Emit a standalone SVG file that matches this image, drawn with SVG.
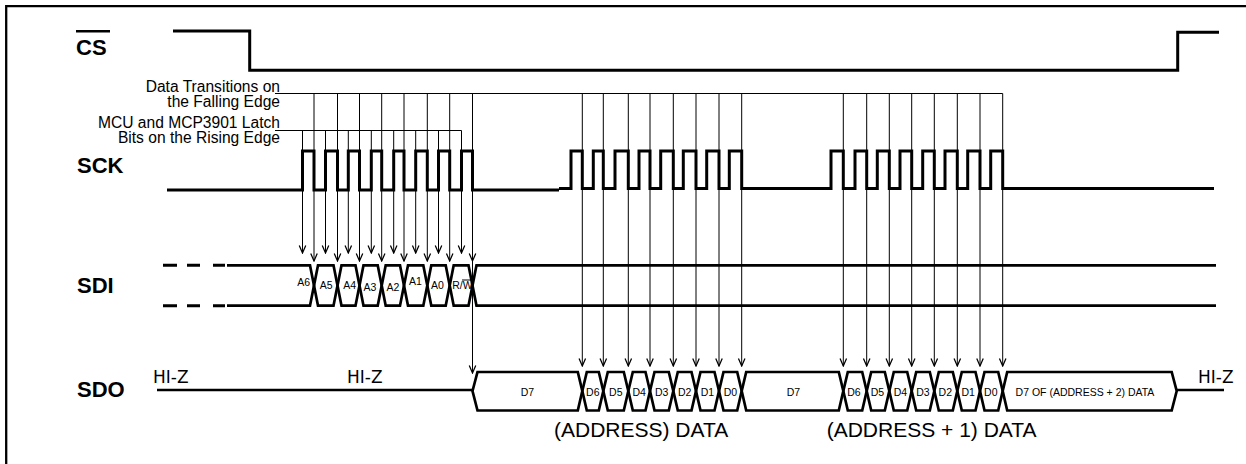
<svg xmlns="http://www.w3.org/2000/svg" width="1246" height="464" viewBox="0 0 1246 464">
<style>
.wave{fill:none;stroke:#000;stroke-width:3;stroke-linejoin:miter;stroke-linecap:butt}
.bus{fill:none;stroke:#000;stroke-width:2.7;stroke-linejoin:miter}
.thin{fill:none;stroke:#000;stroke-width:1}
.arr{fill:none;stroke:#000;stroke-width:1;marker-end:url(#ah)}
.sig{font-family:"Liberation Sans",Arial,sans-serif;font-weight:bold;font-size:22px;fill:#000}
.note{font-family:"Liberation Sans",Arial,sans-serif;font-size:15.6px;fill:#000;text-anchor:end}
.cell{font-family:"Liberation Sans",Arial,sans-serif;font-size:10.5px;fill:#000;text-anchor:middle}
.hiz{font-family:"DejaVu Sans",sans-serif;font-size:17px;fill:#000}
.cap{font-family:"Liberation Sans",Arial,sans-serif;font-size:21px;fill:#000}
</style>
<defs>
<marker id="ah" markerUnits="userSpaceOnUse" markerWidth="10" markerHeight="10" viewBox="-7 -4 8 8" refX="0" refY="0" orient="auto">
<path d="M-6,-2.6 L0,0 L-6,2.6" fill="none" stroke="#000" stroke-width="1"/>
</marker>
</defs>
<rect width="1246" height="464" fill="#fff"/>
<path d="M6.2,464 V6.2 H1246" fill="none" stroke="#000" stroke-width="2.3"/>

<g id="sig-cs">
<text class="sig" x="76" y="55">CS</text>
<path d="M76,31.3 H110" stroke="#000" stroke-width="2.5"/>
<path class="wave" d="M173,31 H249.7 V70.3 H1177.7 V32.3 H1219"/>
</g>

<g id="annotation">
<text class="note" x="280" y="91.7">Data Transitions on</text>
<text class="note" x="280" y="107.3">the Falling Edge</text>
<text class="note" x="280" y="127.7">MCU and MCP3901 Latch</text>
<text class="note" x="280" y="143.3">Bits on the Rising Edge</text>
</g>

<g id="sig-sck">
<text class="sig" x="77" y="173">SCK</text>
<path class="wave" d="M167,190 H302.5 V151 H314 V190 H325.5 V151 H337.5 V190 H348.3 V151 H359.5 V190 H371.3 V151 H381.7 V190 H393.7 V151 H404 V190 H415.7 V151 H427.3 V190 H438.5 V151 H449.7 V190 H461.5 V151 H472.5 V190 H559"/>
<path class="wave" d="M559,188.5 H571 V151 H582.3 V188.5 H593.3 V151 H603.3 V188.5 H615 V151 H628.3 V188.5 H639 V151 H650 V188.5 H660.7 V151 H673.3 V188.5 H683.3 V151 H696 V188.5 H706.7 V151 H719 V188.5 H729.3 V151 H741.7 V188.5 H831 V151 H843.3 V188.5 H855 V151 H866.7 V188.5 H877.3 V151 H889.3 V188.5 H900 V151 H911.7 V188.5 H922.7 V151 H934.3 V188.5 H945 V151 H957.3 V188.5 H967.7 V151 H980 V188.5 H990.7 V151 H1002.7 V188.5 H1214"/>
</g>

<g id="sig-sdi">
<text class="sig" x="77" y="293">SDI</text>
<path class="wave" d="M163,265.3 H177 M187,265.3 H200 M213,265.3 H225 M163,305.7 H177 M187,305.7 H200 M213,305.7 H225"/>
<path class="bus" d="M227,265.3 H310 L314,285.5 L310,305.7 H227"/>
<path class="bus" d="M314,285.5 L318,265.3 H333.5 L337.5,285.5 L333.5,305.7 H318 Z"/>
<path class="bus" d="M337.5,285.5 L341.5,265.3 H355.5 L359.5,285.5 L355.5,305.7 H341.5 Z"/>
<path class="bus" d="M359.5,285.5 L363.5,265.3 H377.7 L381.7,285.5 L377.7,305.7 H363.5 Z"/>
<path class="bus" d="M381.7,285.5 L385.7,265.3 H400 L404,285.5 L400,305.7 H385.7 Z"/>
<path class="bus" d="M404,285.5 L408,265.3 H423.3 L427.3,285.5 L423.3,305.7 H408 Z"/>
<path class="bus" d="M427.3,285.5 L431.3,265.3 H445.7 L449.7,285.5 L445.7,305.7 H431.3 Z"/>
<path class="bus" d="M449.7,285.5 L453.7,265.3 H468.5 L472.5,285.5 L468.5,305.7 H453.7 Z"/>
<path class="bus" d="M1216,265.3 H476.5 L472.5,285.5 L476.5,305.7 H1216"/>
<text class="cell" x="303.7" y="286">A6</text>
<text class="cell" x="326.2" y="289.3">A5</text>
<text class="cell" x="349.7" y="289.3">A4</text>
<text class="cell" x="369.8" y="290.5">A3</text>
<text class="cell" x="393" y="290.5">A2</text>
<text class="cell" x="415.5" y="285">A1</text>
<text class="cell" x="437.5" y="289.3">A0</text>
<text class="cell" x="462.5" y="289.3">R/W</text>
<path class="thin" d="M462,280 H472"/>
</g>

<g id="sig-sdo">
<text class="sig" x="77" y="397">SDO</text>
<path class="bus" d="M157,390 H472.5"/>
<path class="bus" d="M472.5,391 L477.5,372 H577.8 L582.3,391 L577.8,410.5 H477.5 Z"/>
<path class="bus" d="M582.3,391 L586.8,372 H598.8 L603.3,391 L598.8,410.5 H586.8 Z"/>
<path class="bus" d="M603.3,391 L607.8,372 H623.8 L628.3,391 L623.8,410.5 H607.8 Z"/>
<path class="bus" d="M628.3,391 L632.8,372 H645.5 L650,391 L645.5,410.5 H632.8 Z"/>
<path class="bus" d="M650,391 L654.5,372 H668.8 L673.3,391 L668.8,410.5 H654.5 Z"/>
<path class="bus" d="M673.3,391 L677.8,372 H691.5 L696,391 L691.5,410.5 H677.8 Z"/>
<path class="bus" d="M696,391 L700.5,372 H714.5 L719,391 L714.5,410.5 H700.5 Z"/>
<path class="bus" d="M719,391 L723.5,372 H737.2 L741.7,391 L737.2,410.5 H723.5 Z"/>
<path class="bus" d="M741.7,391 L746.2,372 H838.8 L843.3,391 L838.8,410.5 H746.2 Z"/>
<path class="bus" d="M843.3,391 L847.8,372 H862.2 L866.7,391 L862.2,410.5 H847.8 Z"/>
<path class="bus" d="M866.7,391 L871.2,372 H884.8 L889.3,391 L884.8,410.5 H871.2 Z"/>
<path class="bus" d="M889.3,391 L893.8,372 H907.2 L911.7,391 L907.2,410.5 H893.8 Z"/>
<path class="bus" d="M911.7,391 L916.2,372 H929.8 L934.3,391 L929.8,410.5 H916.2 Z"/>
<path class="bus" d="M934.3,391 L938.8,372 H952.8 L957.3,391 L952.8,410.5 H938.8 Z"/>
<path class="bus" d="M957.3,391 L961.8,372 H975.5 L980,391 L975.5,410.5 H961.8 Z"/>
<path class="bus" d="M980,391 L984.5,372 H998.2 L1002.7,391 L998.2,410.5 H984.5 Z"/>
<path class="bus" d="M1002.7,391 L1007.2,372 H1171.7 L1176.7,391 L1171.7,410.5 H1007.2 Z"/>
<path class="bus" d="M1176.7,390 H1224"/>
<text class="hiz" x="153" y="383">HI-Z</text>
<text class="hiz" x="347" y="383">HI-Z</text>
<text class="hiz" x="1198" y="383">HI-Z</text>
<text class="cell" x="527.5" y="396">D7</text>
<text class="cell" x="592.8" y="396">D6</text>
<text class="cell" x="615.8" y="396">D5</text>
<text class="cell" x="639.2" y="396">D4</text>
<text class="cell" x="661.7" y="396">D3</text>
<text class="cell" x="684.7" y="396">D2</text>
<text class="cell" x="707.5" y="396">D1</text>
<text class="cell" x="730.4" y="396">D0</text>
<text class="cell" x="793.5" y="396">D7</text>
<text class="cell" x="854" y="396">D6</text>
<text class="cell" x="877.5" y="396">D5</text>
<text class="cell" x="900.5" y="396">D4</text>
<text class="cell" x="923" y="396">D3</text>
<text class="cell" x="945.3" y="396">D2</text>
<text class="cell" x="968.2" y="396">D1</text>
<text class="cell" x="990.8" y="396">D0</text>
<text class="cell" x="1085" y="396">D7 OF (ADDRESS + 2) DATA</text>
<text class="cap" x="554" y="437">(ADDRESS) DATA</text>
<text class="cap" x="826.7" y="437">(ADDRESS + 1) DATA</text>
</g>

<g id="connectors">
<path class="thin" d="M275,93.5 H1002.7 M275,130.5 H461.5"/>
<path class="arr" d="M302.5,130.5 V253"/>
<path class="arr" d="M325.5,130.5 V253"/>
<path class="arr" d="M348.3,130.5 V253"/>
<path class="arr" d="M371.3,130.5 V253"/>
<path class="arr" d="M393.7,130.5 V253"/>
<path class="arr" d="M415.7,130.5 V253"/>
<path class="arr" d="M438.5,130.5 V253"/>
<path class="arr" d="M461.5,130.5 V253"/>
<path class="arr" d="M314,93.5 V261"/>
<path class="arr" d="M337.5,93.5 V261"/>
<path class="arr" d="M359.5,93.5 V261"/>
<path class="arr" d="M381.7,93.5 V261"/>
<path class="arr" d="M404,93.5 V261"/>
<path class="arr" d="M427.3,93.5 V261"/>
<path class="arr" d="M449.7,93.5 V261"/>
<path class="arr" d="M472.5,93.5 V261"/>
<path class="arr" d="M472.5,261 V373"/>
<path class="arr" d="M582.3,93.5 V366"/>
<path class="arr" d="M603.3,93.5 V366"/>
<path class="arr" d="M628.3,93.5 V366"/>
<path class="arr" d="M650,93.5 V366"/>
<path class="arr" d="M673.3,93.5 V366"/>
<path class="arr" d="M696,93.5 V366"/>
<path class="arr" d="M719,93.5 V366"/>
<path class="arr" d="M741.7,93.5 V366"/>
<path class="arr" d="M843.3,93.5 V366"/>
<path class="arr" d="M866.7,93.5 V366"/>
<path class="arr" d="M889.3,93.5 V366"/>
<path class="arr" d="M911.7,93.5 V366"/>
<path class="arr" d="M934.3,93.5 V366"/>
<path class="arr" d="M957.3,93.5 V366"/>
<path class="arr" d="M980,93.5 V366"/>
<path class="arr" d="M1002.7,93.5 V366"/>
</g>
</svg>
